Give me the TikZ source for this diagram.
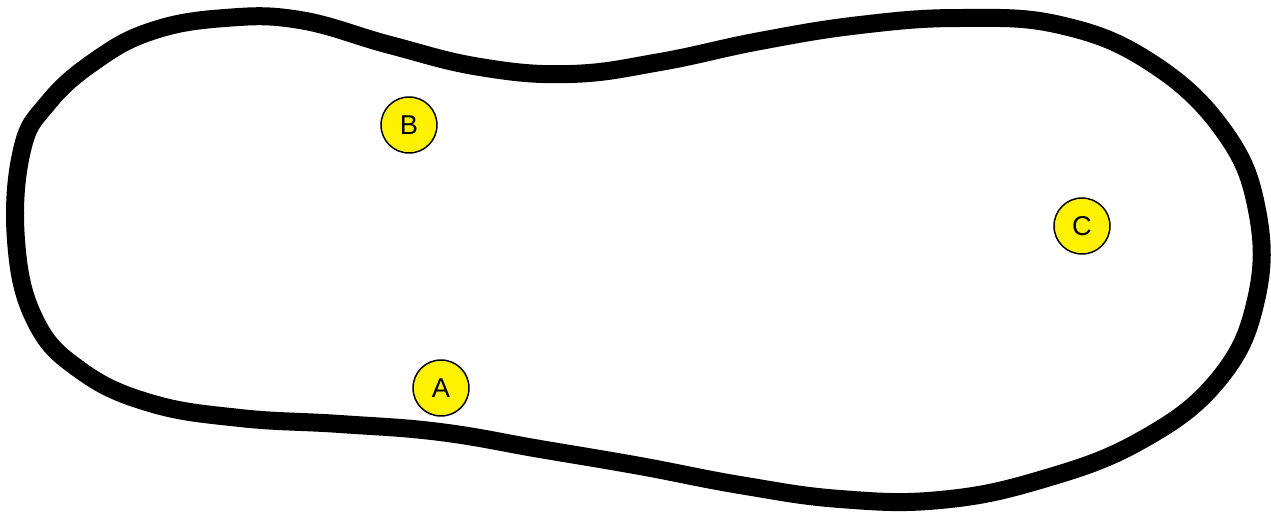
\documentclass[tikz,border=0pt]{standalone}
\usepackage{fontspec}
\setmainfont{Liberation Sans}
\usepackage{tikz}
\usetikzlibrary{positioning}
\tikzset{
    track_line/.style={line width=0.36cm, black, line join=round},
    % yellow marker on the track
    track_point/.style={circle, draw=black, line width=0.85pt, fill=yellow,
        minimum size=1.12cm, inner sep=0pt,
        font=\fontsize{15.5}{18}\selectfont},
}

\begin{document}
\begin{tikzpicture}[x=0.02cm, y=-0.02cm]
        \useasboundingbox (0,0) rectangle (1271,514);

        % Closed track outline
        \draw[track_line] plot[smooth cycle, tension=0.7] coordinates {
            (16,240) (22,150) (48,103) (95,61) (152,31) (225,18) (300,20) (390,45)
            (480,67) (570,74) (660,62) (760,41) (860,25) (960,18) (1060,25)
            (1150,62) (1223,130) (1257,210) (1256,300) (1218,380) (1140,441)
            (1040,480) (940,500) (840,499) (740,485) (640,466) (540,449)
            (440,432) (340,424) (240,418) (150,403) (80,370) (35,320)};

        % Points on the track
        \node[track_point] (b) at (409,125) {B};
        \node[track_point] (a) at (441,388) {A};
        \node[track_point] (c) at (1082,226) {C};
    \end{tikzpicture}
\end{document}
